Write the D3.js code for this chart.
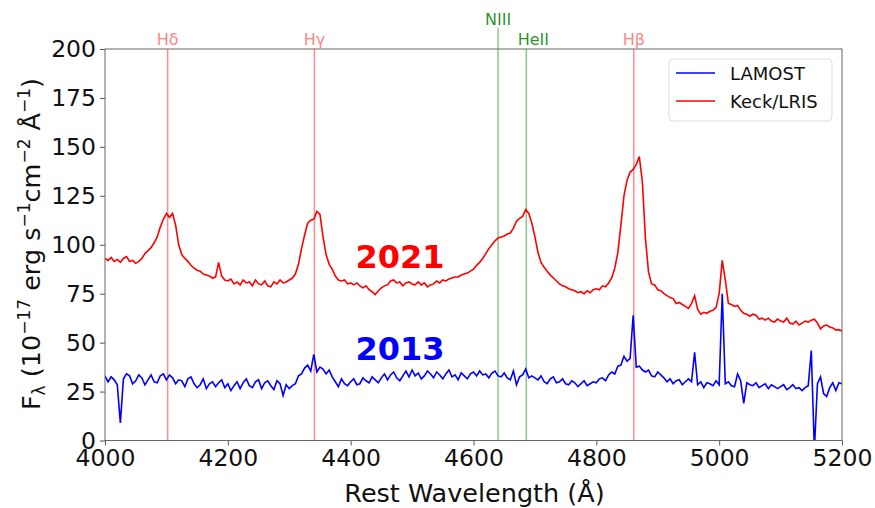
<!DOCTYPE html>
<html lang="en">
<head>
<meta charset="UTF-8">
<title>Spectra</title>
<style>
  body { margin: 0; background: #fff; }
  text { font-family: "DejaVu Sans", sans-serif; }
</style>
</head>
<body>
<svg width="875" height="508" id="svg"></svg>
<script src="https://d3js.org/d3.v7.min.js"></script>
<script>
// wavelength grid (Angstrom), 5 A step
const waveStart = 4000, waveStep = 5

// Keck/LRIS 2021 flux, 4000..5200
const keckFlux = [
  93, 92, 93.5, 91.5, 92.5, 91, 93, 94, 91.5, 92, 90.5, 91.5, 93, 95.5, 97, 98.5, 101, 104, 109, 113,
  116, 114, 116, 110, 100, 95, 93, 91.5, 89.5, 88, 87, 86.5, 85, 84.5, 84, 83, 83.5, 91, 84, 82,
  81.5, 82.5, 80, 81, 79.5, 82, 80.5, 81, 79, 82, 80, 79.5, 81.5, 79, 78.5, 81, 80, 82, 80.5, 81,
  82, 83, 85, 90, 98, 105, 111, 112.5, 113, 117, 115.5, 104, 95, 90, 87.5, 84, 82, 81.5, 82, 80,
  80.5, 79.5, 80.5, 79, 78, 79, 77, 76, 74.5, 76.5, 78, 79, 79.5, 81.5, 82, 80.5, 81, 79, 80.5, 81,
  80, 79.5, 81, 79.5, 80.5, 78.5, 79.5, 80, 81.5, 80.5, 82, 81.5, 82.5, 83, 83.5, 83.5, 84.5, 85, 85.5, 86.5,
  87.5, 89.5, 91, 93, 95.5, 98, 100, 102, 103.5, 104, 104.5, 105.5, 106, 108.5, 112, 113.5, 114.5, 118, 116, 111,
  104, 96, 91, 88.5, 86.5, 84.5, 83, 81.5, 80, 79, 78.5, 77.5, 77, 76.5, 75.5, 76, 75, 76.5, 75.5, 77,
  77.5, 77, 79, 78.5, 80.5, 83, 88, 96, 110, 125, 133, 137, 138.5, 141, 145, 132, 103, 86, 80, 79.5,
  77, 76.5, 75, 74, 73, 72.5, 70, 70.5, 69.5, 68.5, 67.5, 70, 74, 67, 64.5, 65.5, 65, 66, 66.5, 68,
  75, 92, 82, 70, 69.5, 68.5, 69, 66.5, 65, 64.5, 63.5, 64.5, 64, 62, 62.5, 61.5, 62.5, 61, 60.5, 62,
  61, 60.5, 62.5, 60, 59.5, 61, 59, 60, 61, 60.5, 61.5, 62, 60, 57, 58.5, 59, 58, 57.5, 56.5, 56.5,
  56
]

// LAMOST 2013 flux, 4000..5200
const lamostFlux = [
  33, 30, 32.5, 31, 28.5, 9, 31.5, 34, 33, 29, 30.5, 33.5, 32, 28.5, 31, 33.5, 30, 29.5, 33, 34,
  31, 33.5, 32, 29, 31, 30.5, 27.5, 31.5, 32.5, 29, 27, 28.5, 31.5, 26.5, 29, 30, 27.5, 29.5, 31, 27,
  29, 25.5, 28, 30, 26.5, 29.5, 31.5, 28, 27, 30, 31, 26.5, 29.5, 30.5, 28, 26, 30.5, 29, 23, 28.5,
  26.5, 28, 29, 33, 34, 37, 38.5, 35.5, 44, 35, 37.5, 36.5, 34, 36, 32.5, 30, 27.5, 31.5, 29, 28,
  30, 31.5, 28.5, 29, 32, 30.5, 29.5, 32.5, 31, 29.5, 32, 34, 31, 33.5, 35, 32, 30.5, 33, 35.5, 32.5,
  36, 33, 34.5, 31.5, 33, 35.5, 34, 32, 35, 33.5, 31.5, 34, 36, 32.5, 33.5, 31, 34.5, 33, 31.5, 34,
  35, 33, 35.5, 33.5, 34, 32, 34.5, 35.5, 33, 32.5, 34.5, 32, 31, 35.5, 28.5, 32.5, 33.5, 36.5, 32, 33,
  32, 31, 33, 30, 29, 31.5, 32.5, 29.5, 30, 31.5, 29, 28.5, 30.5, 29.5, 27.5, 29, 30.5, 28, 29, 30,
  29.5, 31.5, 32, 30.5, 33.5, 35, 34, 38, 38.5, 43, 40.5, 42, 64, 37.5, 38, 36, 35, 36, 33, 32.5,
  35, 33.5, 32, 30, 31.5, 29, 30.5, 31, 28.5, 30, 31.5, 30, 45, 28.5, 30, 27, 29.5, 29, 28, 30.5,
  28.5, 75, 29, 30, 28, 27.5, 34, 30.5, 19, 29.5, 28.5, 28, 29.5, 27, 28, 29, 26.5, 28.5, 27.5, 26.5,
  27.5, 28.5, 26, 27, 28.5, 26.5, 27, 25.5, 27, 28, 46, -5, 29, 32.5, 24, 22.5, 27, 29.5, 25.5, 29.5,
  29
]

// marked lines
const lineNames = ["Hδ", "Hγ", "NIII", "HeII", "Hβ"]
const lineWaves = [4102, 4341, 4640, 4686, 4861]
const lineKinds = ["H", "H", "He", "He", "H"]

const xTicks = [4000, 4200, 4400, 4600, 4800, 5000, 5200]
const yTicks = [0, 25, 50, 75, 100, 125, 150, 175, 200]

const margin = { top: 49, right: 33, bottom: 67.5, left: 105 }
const svg = d3.select("svg#svg")
const width = +svg.attr("width")
const height = +svg.attr("height")
const innerWidth = width - margin.left - margin.right
const innerHeight = height - margin.top - margin.bottom

const g = svg.append("g").attr("transform", `translate(${margin.left},${margin.top})`)
const xScale = d3.scaleLinear().domain([4000, 5200]).range([0, innerWidth])
const yScale = d3.scaleLinear().domain([0, 200]).range([innerHeight, 0])

svg.append("defs").append("clipPath").attr("id", "clip")
  .append("rect").attr("width", innerWidth).attr("height", innerHeight)

// vertical line markers
lineWaves.forEach((w, i) => {
  const x = xScale(w)
  const isH = lineKinds[i] === "H"
  const top = lineNames[i] === "NIII" ? -21 : 0
  g.append("line")
    .attr("x1", x).attr("x2", x).attr("y1", top).attr("y2", innerHeight)
    .attr("stroke", isH ? "red" : "green")
    .attr("stroke-opacity", 0.45)
    .attr("stroke-width", 1.5)
  let ty = lineNames[i] === "NIII" ? -24 : -4
  let dx = lineNames[i] === "HeII" ? 7 : 0
  g.append("text")
    .attr("x", x + dx).attr("y", ty)
    .attr("text-anchor", "middle")
    .attr("font-size", 16)
    .attr("fill", isH ? "red" : "green")
    .attr("fill-opacity", isH ? 0.5 : 0.85)
    .text(lineNames[i])
})

const line = d3.line()
  .x((d, i) => xScale(waveStart + i * waveStep))
  .y(d => yScale(d))

const plot = g.append("g").attr("clip-path", "url(#clip)")
plot.append("path").datum(lamostFlux)
  .attr("d", line).attr("fill", "none").attr("stroke", "blue").attr("stroke-width", 1.6)
plot.append("path").datum(keckFlux)
  .attr("d", line).attr("fill", "none").attr("stroke", "red").attr("stroke-width", 1.6)

// axes
const xAxis = d3.axisBottom(xScale).tickValues(xTicks).tickFormat(d3.format("d")).tickSize(5).tickPadding(4)
const yAxis = d3.axisLeft(yScale).tickValues(yTicks).tickFormat(d3.format("d")).tickSize(5).tickPadding(4)
const gx = g.append("g").attr("transform", `translate(0,${innerHeight})`).call(xAxis)
const gy = g.append("g").call(yAxis)
;[gx, gy].forEach(a => {
  a.select(".domain").remove()
  a.selectAll("line").attr("stroke", "#555")
  a.selectAll("text").attr("font-size", 23.5).attr("fill", "#111")
    .attr("font-family", "DejaVu Sans")
})
g.append("rect").attr("width", innerWidth).attr("height", innerHeight)
  .attr("fill", "none").attr("stroke", "#666").attr("stroke-width", 1)

// axis titles
svg.append("text")
  .attr("x", margin.left + innerWidth / 2 + 1).attr("y", 502)
  .attr("text-anchor", "middle").attr("font-size", 25.5).attr("fill", "#111")
  .text("Rest Wavelength (Å)")

const yt = svg.append("text")
  .attr("transform", `translate(40,244) rotate(-90)`)
  .attr("text-anchor", "middle").attr("font-size", 25.5).attr("fill", "#111")
yt.append("tspan").text("F")
yt.append("tspan").attr("font-size", 17).attr("dy", 5).text("λ")
yt.append("tspan").attr("dy", -5).text(" (10")
yt.append("tspan").attr("font-size", 17).attr("dy", -10).text("−17")
yt.append("tspan").attr("dy", 10).text(" erg s")
yt.append("tspan").attr("font-size", 17).attr("dy", -10).text("−1")
yt.append("tspan").attr("dy", 10).text("cm")
yt.append("tspan").attr("font-size", 17).attr("dy", -10).text("−2")
yt.append("tspan").attr("dy", 10).text(" Å")
yt.append("tspan").attr("font-size", 17).attr("dy", -10).text("−1")
yt.append("tspan").attr("dy", 10).text(")")

// year labels
svg.append("text").attr("x", 400).attr("y", 268).attr("text-anchor", "middle")
  .attr("font-family", "Lato").attr("font-weight", "bold").attr("font-size", 32)
  .attr("fill", "red").text("2021")
svg.append("text").attr("x", 400).attr("y", 360).attr("text-anchor", "middle")
  .attr("font-family", "Lato").attr("font-weight", "bold").attr("font-size", 32)
  .attr("fill", "blue").text("2013")

// legend
const legend = g.append("g").attr("transform", `translate(${innerWidth - 173},10)`)
legend.append("rect").attr("width", 163).attr("height", 62).attr("rx", 4)
  .attr("fill", "white").attr("fill-opacity", 0.8).attr("stroke", "#ddd")
const legendItems = [["LAMOST", "blue"], ["Keck/LRIS", "red"]]
legendItems.forEach((d, i) => {
  const y = 14 + i * 28
  legend.append("line").attr("x1", 7).attr("x2", 46).attr("y1", y).attr("y2", y)
    .attr("stroke", d[1]).attr("stroke-width", 1.5)
  legend.append("text").attr("x", 61).attr("y", y + 6.5).attr("font-size", 18)
    .attr("fill", "#111").text(d[0])
})
</script>
</body>
</html>
